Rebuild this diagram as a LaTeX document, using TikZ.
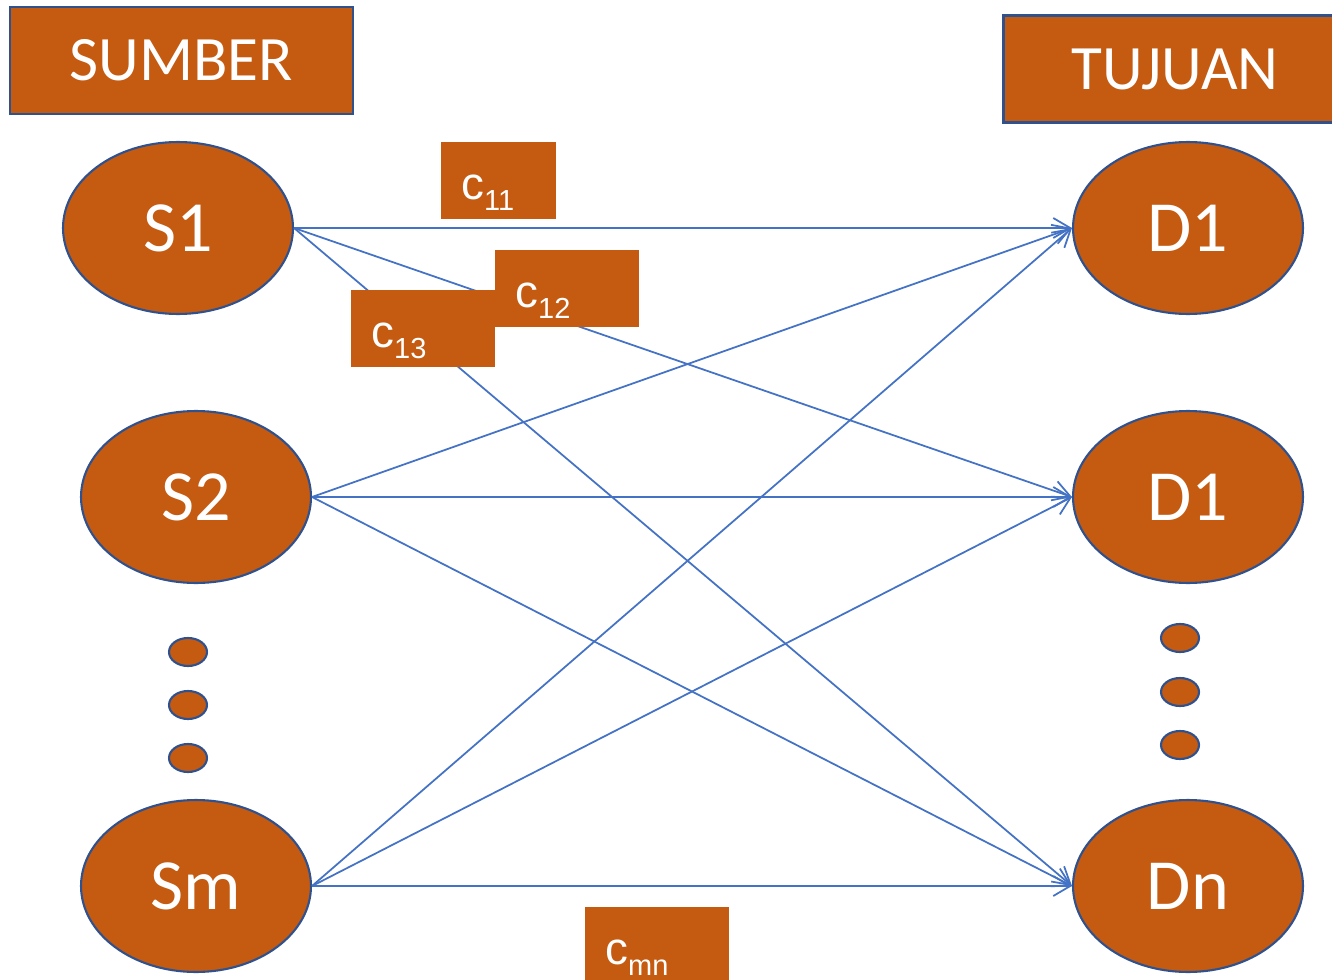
\documentclass[tikz,border=0pt]{standalone}
\usepackage{fontspec}
\setmainfont{Carlito}
\newfontfamily\arialfont{Liberation Sans}
\usepackage{xcolor}
\usepackage{tikz}
\usetikzlibrary{shapes.geometric,arrows.meta}

\definecolor{boxfill}{HTML}{C55A11}
\definecolor{rimblue}{HTML}{2F528F}
\definecolor{linkblue}{HTML}{4472C4}

\newcommand{\costlabel}[1]{c\raisebox{-6.2pt}{\fontsize{16.5}{16.5}\selectfont #1}}

\begin{document}
\begin{tikzpicture}[x=0.02cm, y=-0.02cm,
    header/.style={draw=rimblue, line width=1.2pt, fill=boxfill, text=white, minimum width=6.86cm, minimum height=2.14cm, inner sep=0pt, font=\fontsize{36}{36}\selectfont},
    site/.style={ellipse, draw=rimblue, line width=1.2pt, fill=boxfill, text=white, minimum width=4.6cm, minimum height=3.44cm, inner sep=0pt, font=\fontsize{41}{41}\selectfont},
    gapdot/.style={ellipse, draw=rimblue, line width=1.2pt, fill=boxfill, minimum width=0.76cm, minimum height=0.56cm, inner sep=0pt},
    costbox/.style={fill=boxfill, text=white, anchor=north west, inner xsep=0.4cm, inner ysep=0pt, minimum height=1.54cm, text height=21pt, text depth=0pt, align=left, font=\arialfont\fontsize{26}{26}\selectfont},
    link/.style={draw=linkblue, line width=1pt, -{Straight Barb[length=3.4mm,width=4mm]}}]
    \useasboundingbox (0,0) rectangle (1332,980);

    \node[header] (sumber) at (181.5,60.5) {SUMBER};
    \node[header] (tujuan) at (1175,69) {TUJUAN};

    \node[site] (s1) at (178,228) {S1};
    \node[site] (s2) at (196,497) {S2};
    \node[site] (sm) at (196,886) {Sm};
    \node[site] (d1) at (1188,228) {D1};
    \node[site] (d2) at (1188,497) {D1};
    \node[site] (dn) at (1188,886) {Dn};

    \node[gapdot] (sdot1) at (188,652) {};
    \node[gapdot] (sdot2) at (188,705) {};
    \node[gapdot] (sdot3) at (188,758) {};
    \node[gapdot] (ddot1) at (1180,638) {};
    \node[gapdot] (ddot2) at (1180,692) {};
    \node[gapdot] (ddot3) at (1180,745) {};

    \draw[link] (s1.east) -- (d1.west);
    \draw[link] (s1.east) -- (d2.west);
    \draw[link] (s1.east) -- (dn.west);
    \draw[link] (s2.east) -- (d1.west);
    \draw[link] (s2.east) -- (d2.west);
    \draw[link] (s2.east) -- (dn.west);
    \draw[link] (sm.east) -- (d1.west);
    \draw[link] (sm.east) -- (d2.west);
    \draw[link] (sm.east) -- (dn.west);

    \node[costbox, text width=1.5cm] (c11) at (441,142) {\costlabel{11}};
    \node[costbox, text width=2.08cm] (c12) at (495,250) {\costlabel{12}};
    \node[costbox, text width=2.08cm] (c13) at (351,290) {\costlabel{13}};
    \node[costbox, text width=2.08cm] (cmn) at (585,907) {\costlabel{mn}};
\end{tikzpicture}
\end{document}
